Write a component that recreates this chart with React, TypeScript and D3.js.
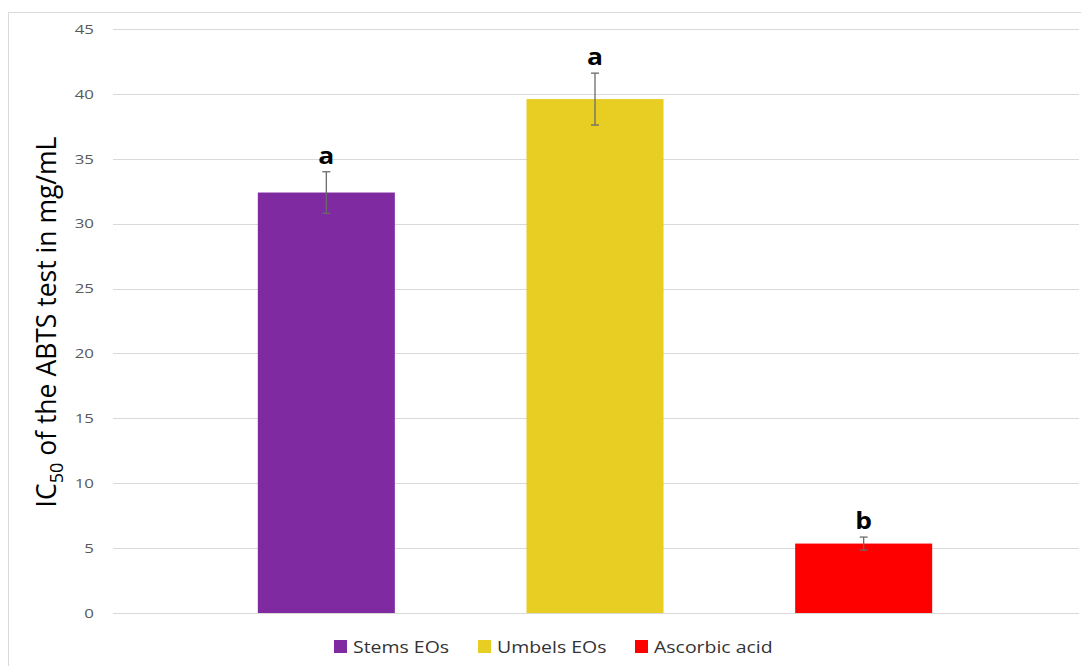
import React from "react";
import * as d3 from "d3";

const categories = ["Stems EOs", "Umbels EOs", "Ascorbic acid"];
const values = [32.4, 39.6, 5.35];
const errors = [1.6, 2.0, 0.5];
const letters = ["a", "a", "b"];
const colors = ["#7F2AA0", "#E8CD22", "#FF0000"];
const yTicks = [0, 5, 10, 15, 20, 25, 30, 35, 40, 45];

const W = 1081;
const H = 666;

export default function App() {
  const y = d3.scaleLinear().domain([0, 45]).range([613, 29]);
  const x = d3
    .scaleBand<string>()
    .domain(categories)
    .range([192, 998])
    .paddingInner(0.49)
    .paddingOuter(0.245);
  const gridX0 = 113;
  const gridX1 = 1079;
  const font = "'Open Sans', 'Noto Sans', sans-serif";

  const legendX = [334, 478, 635];

  return (
    <svg
      width={W}
      height={H}
      style={{ position: "absolute", left: 0, top: 0, background: "#fff" }}
      fontFamily={font}
    >
      {/* chart frame */}
      <line x1={8.5} y1={12} x2={8.5} y2={H} stroke="#d9d9d9" />
      <line x1={8} y1={12.5} x2={W} y2={12.5} stroke="#d9d9d9" />

      {/* gridlines and tick labels */}
      {yTicks.map((t) => (
        <g key={t}>
          <line
            x1={gridX0}
            x2={gridX1}
            y1={Math.round(y(t)) + 0.5}
            y2={Math.round(y(t)) + 0.5}
            stroke="#d9d9d9"
          />
          <text
            transform={`translate(94,${y(t)}) scale(1.25,1)`}
            dy="0.35em"
            textAnchor="end"
            fontSize={13.5}
            fill="#595959"
          >
            {t}
          </text>
        </g>
      ))}

      {/* bars */}
      {categories.map((c, i) => (
        <rect
          key={c}
          x={x(c)}
          y={y(values[i])}
          width={x.bandwidth()}
          height={y(0) - y(values[i])}
          fill={colors[i]}
        />
      ))}

      {/* error bars */}
      {categories.map((c, i) => {
        const cx = (x(c) as number) + x.bandwidth() / 2;
        const top = y(values[i] + errors[i]);
        const bot = y(values[i] - errors[i]);
        return (
          <g key={c} stroke="#6b6b6b" strokeWidth={1.3}>
            <line x1={cx} x2={cx} y1={top} y2={bot} />
            <line x1={cx - 4} x2={cx + 4} y1={top} y2={top} />
            <line x1={cx - 4} x2={cx + 4} y1={bot} y2={bot} />
          </g>
        );
      })}

      {/* significance letters */}
      {categories.map((c, i) => {
        const cx = (x(c) as number) + x.bandwidth() / 2;
        return (
          <text
            key={c}
            transform={`translate(${cx},${y(values[i] + errors[i]) - 8}) scale(1.15,1)`}
            textAnchor="middle"
            fontSize={23}
            fontWeight="bold"
            fill="#000"
          >
            {letters[i]}
          </text>
        );
      })}

      {/* y-axis title */}
      <text
        transform="translate(56,322) rotate(-90)"
        textAnchor="middle"
        fontSize={26.5}
        fill="#000"
      >
        IC
        <tspan fontSize={18} dy={7}>
          50
        </tspan>
        <tspan dy={-7}> of the ABTS test in mg/mL</tspan>
      </text>

      {/* legend */}
      {categories.map((c, i) => (
        <g key={c}>
          <rect
            x={legendX[i]}
            y={640}
            width={13}
            height={13}
            fill={colors[i]}
          />
          <text
            transform={`translate(${legendX[i] + 19},${647}) scale(1.18,1)`}
            dy="0.35em"
            fontSize={16.5}
            fill="#333"
          >
            {c}
          </text>
        </g>
      ))}
    </svg>
  );
}
